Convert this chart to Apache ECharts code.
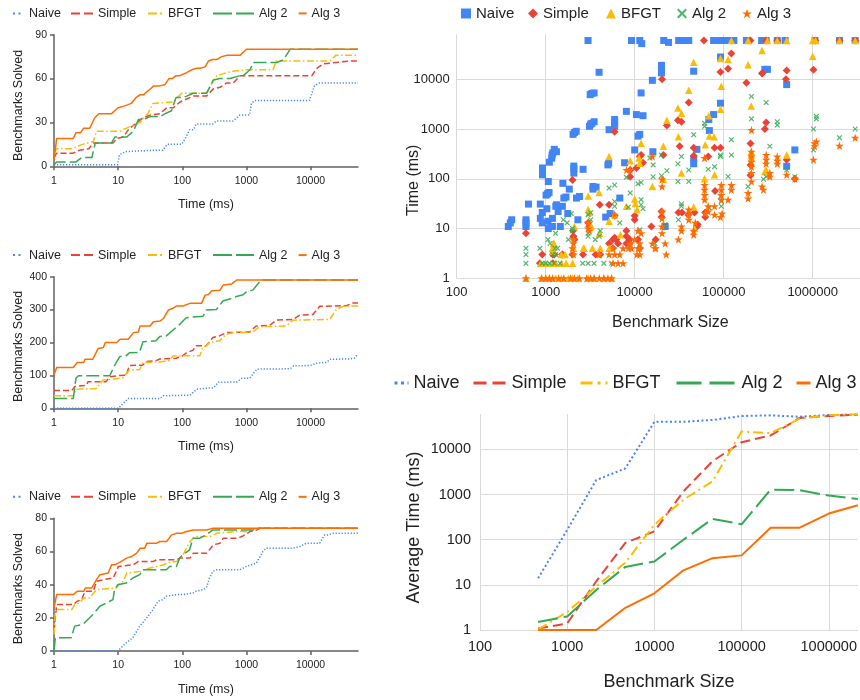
<!DOCTYPE html>
<html><head><meta charset="utf-8">
<script src="https://cdn.jsdelivr.net/npm/echarts@6/dist/echarts.min.js"></script>
<style>html,body{margin:0;padding:0;background:#fff}#c{width:860px;height:700px}</style>
</head><body><div id="c"></div>
<script>
// ---------- Panel 1 (top-left): benchmarks solved vs time ----------
const p1Naive = [[1,1],[9.8,1],[10.5,8],[13,10],[35,11],[50,11],[58,15],[98,15],[115,20],[130,25],[150,25],[165,29],[300,29],[340,31],[620,31],[790,35],[1120,35],[1200,43],[1340,45],[9600,45],[11500,55],[13800,57],[55000,57]];
const p1Simple = [[1,6],[1.1,9],[2.0,9],[2.5,11],[3.5,12],[4.1,16],[8.4,16],[9.5,19],[12,20],[15,26],[20,30],[24,33],[31.5,35],[45,36],[57,40],[72,40],[92,44],[117,46],[149,48],[240,48],[305,53],[388,54],[493,57],[627,57],[800,62],[10500,62],[12500,67],[15800,70],[25000,71],[40000,72],[55000,72]];
const p1BFGT = [[1,9],[1.1,12],[1.9,12],[2.8,15],[4.1,17],[4.6,24],[10.6,24],[15,27],[22,30],[29,36],[35,43],[72,44],[98,50],[240,50],[300,58],[345,62],[490,64],[620,65],[1000,66],[2600,66],[2900,72],[20000,72],[25000,76],[55000,76]];
const p1Alg2 = [[1,1],[1.1,3],[2.2,3],[2.7,6],[3.9,6],[4.4,16],[7.9,16],[8.9,20],[13.6,20],[17.3,24],[20.7,32],[24.8,32],[31.5,34],[45,34],[54,36],[68,38],[80,47],[103,47],[117,48],[149,50],[240,50],[305,59],[388,60],[556,60],[797,62],[898,62],[1140,66],[1290,71],[3000,71],[3800,73],[4800,80],[55000,80]];
const p1Alg3 = [[1,4],[1.1,19],[2.0,19],[2.2,23],[2.6,23],[2.9,26],[3.6,26],[4.3,33],[5,36],[7.9,36],[10,40],[12,41],[14,42],[16,43],[19,47],[22,49],[25,49],[28,51],[32,53],[36,55],[45,55],[54,56],[62,60],[70,60],[80,62],[92,62],[117,64],[140,66],[168,67],[190,67],[227,68],[256,72],[300,73],[345,73],[413,75],[500,76],[800,76],[1000,80],[55000,80]];

// ---------- Panel 2 (middle-left) ----------
const p2Naive = [[1,0],[10.1,0],[12,15],[14.4,30],[45,30],[51,38],[132,40],[168,58],[230,61],[305,62],[366,79],[707,80],[847,91],[1140,92],[1450,119],[4810,120],[5430,129],[9870,130],[12500,137],[17900,140],[20200,149],[41000,150],[48000,152],[55000,165]];
const p2Simple = [[1,54],[1.9,54],[2.1,66],[3.2,70],[3.4,81],[6.5,81],[7.4,96],[10.6,100],[13.4,101],[15,130],[24,131],[27.5,142],[39,145],[44.5,150],[81,152],[91,157],[102,160],[115,168],[147,177],[165,190],[237,190],[300,215],[380,220],[490,230],[1120,232],[1420,250],[2300,252],[2930,268],[5300,270],[6800,283],[10900,285],[13900,310],[36000,312],[46000,320],[55000,320]];
const p2BFGT = [[1,38],[2.0,38],[2.2,58],[4.6,60],[5.8,86],[8.3,88],[8.8,91],[11.9,93],[15,116],[21.7,118],[24.4,139],[44.5,141],[63.5,145],[71.6,159],[188,160],[211,187],[237,190],[266,200],[380,205],[490,225],[618,230],[1270,232],[1610,248],[4200,250],[5300,268],[19800,270],[25300,300],[32000,310],[55000,311]];
const p2Alg2 = [[1,30],[2.0,30],[2.2,91],[2.4,99],[7.4,99],[8.8,130],[10.6,157],[13.4,160],[15,169],[21.5,170],[24.4,202],[39,205],[44.5,218],[56.5,220],[72,238],[91,255],[115,275],[139,277],[211,280],[237,299],[340,300],[430,326],[618,335],[700,340],[890,345],[1000,354],[1270,360],[1610,385],[1810,390],[55000,390]];
const p2Alg3 = [[1,101],[1.1,124],[2.0,124],[2.3,139],[2.9,139],[3.05,149],[4.0,149],[4.9,182],[5.9,185],[6.3,200],[9.5,200],[10.7,210],[14.4,210],[17.3,230],[20.7,232],[22,250],[31.5,250],[35.5,263],[45,265],[51,273],[61,299],[73,305],[82,311],[103,311],[132,319],[200,319],[227,344],[256,346],[290,357],[388,359],[437,375],[591,378],[627,382],[707,390],[55000,390]];

// ---------- Panel 3 (bottom-left) ----------
const p3Naive = [[1,0],[9.9,0],[13.4,5],[17,8],[21.7,15],[28,20],[35,25],[42,30],[50,31],[56.5,33],[81,34],[102,34],[147,35],[165,36],[211,37],[237,38],[266,44],[300,48],[338,49],[790,49],[1000,51],[1430,53],[1810,60],[2040,62],[5300,62],[6800,63],[8600,65],[13900,65],[16600,70],[18600,70],[22500,71],[55000,71]];
const p3Simple = [[1,12],[1.1,28],[2.0,28],[2.3,30],[2.7,31],[3.05,36],[4.1,36],[4.6,42],[5.9,43],[6.3,44],[8.4,44],[10.1,51],[10.7,52],[17.3,52],[20.7,54],[35.5,54],[40,55],[82,55],[92,56],[132,56],[149,59],[240,59],[305,64],[388,65],[437,68],[707,68],[847,69],[1140,72],[1450,73],[1630,74],[55000,74]];
const p3BFGT = [[1,10],[1.05,25],[1.9,25],[2.1,28],[2.5,29],[2.9,32],[3.6,32],[4.6,37],[9.5,38],[10.1,40],[12.1,42],[13.6,47],[22,48],[24.8,49],[31.5,50],[51,52],[57,53],[82,54],[103,58],[132,66],[149,68],[168,69],[271,69],[345,71],[707,72],[1000,72],[1140,73],[1600,74],[55000,74]];
const p3Alg2 = [[1,0],[1.05,8],[1.86,8],[2.1,15],[2.8,16],[3.6,20],[4.05,22],[5.2,27],[8.3,31],[8.8,37],[9.9,40],[13.4,41],[17,44],[21.7,46],[24.4,49],[56.5,49],[63.5,51],[81,51],[91,56],[102,58],[130,61],[147,68],[188,68],[237,70],[300,73],[1270,73],[1610,74],[55000,74]];
const p3Alg3 = [[1,26],[1.1,34],[2.0,34],[2.3,36],[2.9,36],[3.1,38],[3.9,38],[4.6,43],[5.2,46],[7.0,47],[7.9,52],[8.9,52],[10.1,53],[13.6,56],[16.3,57],[19.5,59],[22,62],[26,62],[28,65],[40,65],[45,66],[57,66],[68,70],[82,71],[98,71],[117,72],[149,73],[240,73],[305,74],[55000,74]];

// ---------- Panel 4 (top-right): time vs benchmark size, scatter ----------
const scNaive = [[380,11],[400,13],[415,15],[600,11],[600,13],[600,15],[640,31],[870,31],[870,16],[915,21],[915,13],[1030,25],[1070,10],[1060,14],[1190,16],[1190,11],[1010,47],[1050,50],[1090,53],[1320,30],[1380,22],[1460,11],[1540,28],[1560,81],[1070,88],[920,120],[920,140],[920,165],[1100,215],[1170,260],[1180,300],[1200,330],[1250,390],[1320,350],[1840,62],[1690,43],[1600,41],[2220,41],[2400,44],[3400,62],[3400,70],[3680,68],[1300,28],[1770,20],[2300,15],[4720,17],[5300,20],[6800,41],[1150,11],[2030,780],[2100,850],[2200,900],[3100,1130],[3200,1250],[3300,1300],[3500,1400],[2070,130],[2070,160],[2070,180],[2630,155],[5000,190],[5100,205],[7700,210],[10000,380],[16000,350],[10900,720],[11400,780],[5150,970],[5950,1130],[5950,1350],[5950,1550],[8060,2260],[10450,1950],[12400,1850],[11800,5300],[3160,4900],[3300,5200],[3500,5300],[3980,13800],[15800,9500],[2990,60000],[9200,60000],[11400,60000],[12000,52000],[21200,60000],[24000,55000],[31200,60000],[35000,60000],[40500,60000],[77000,60000],[85000,60000],[100000,60000],[104000,60000],[115000,60000],[130000,60000],[20000,13400],[20000,16000],[20000,19000],[46000,14500],[92000,28000],[92000,3300],[50000,390],[46000,250],[46000,200],[68000,1550],[77000,1950],[69000,930],[22000,11],[180000,60000],[267000,60000],[300000,60000],[400000,60000],[490000,60000],[290000,15800],[310000,15800],[510000,7800],[630000,380],[510000,178],[1060000,60000],[2000000,60000],[3000000,60000]];
const scSimple = [[600,8],[915,3],[1200,3],[1250,3],[1540,3],[860,2],[1200,2],[2000,95],[2030,9],[2050,7],[2100,6],[1530,3],[2000,3],[2620,3],[3640,3],[4100,3],[3000,13],[3100,11],[4050,30],[5150,30],[5950,880],[5950,18],[5950,6.5],[8060,9],[8060,7],[8060,5],[8900,150],[8900,110],[11400,280],[11800,300],[12400,210],[10450,165],[10000,18],[10000,15],[8800,6],[8800,5],[10900,6],[11400,4],[5700,6],[6200,6],[6500,5],[5150,5],[5700,4],[15400,11],[17200,6],[60000,60000],[122000,33000],[112000,16300],[92000,14000],[20300,10000],[40500,3400],[30600,1500],[33500,1400],[23000,1180],[32000,450],[46000,420],[79000,420],[92000,420],[67000,280],[46000,290],[21000,300],[80000,57],[62000,21],[62000,17],[31000,21],[34000,21],[40000,19],[47000,21],[51000,12],[50000,11],[20000,22],[20000,17],[272000,13400],[510000,15000],[500000,10000],[1020000,15500],[300000,1350],[290000,1000],[510000,240],[630000,100],[200000,510],[200000,190],[200000,118],[200000,60000],[300000,60000],[400000,60000],[1070000,60000],[2000000,60000],[3000000,60000],[180000,8500],[270000,13000]];
const scBFGT = [[1240,5],[1190,4],[1200,3.5],[1500,3],[1500,2],[1650,3],[880,2],[1150,2],[1000,2],[1300,2],[1700,2],[2000,2],[5150,280],[3980,53],[3000,24],[3100,21],[3250,11],[2100,11],[3000,45],[2700,4],[3350,4],[4100,4],[5150,4],[6900,7.5],[11800,520],[8900,230],[11200,260],[11400,205],[10000,39],[10200,32],[10650,24],[15800,70],[8060,28],[5950,19],[4020,8],[5150,14],[122000,60000],[188000,60000],[46000,22000],[92000,26000],[112000,25000],[188000,19600],[40500,6000],[94000,7200],[30600,2630],[33500,2070],[23000,1500],[68000,1850],[92000,2500],[204000,2900],[31000,700],[69000,720],[78000,700],[21000,450],[62000,480],[21000,98],[61000,100],[33500,130],[79000,120],[46000,27],[47000,10],[204000,350],[204000,300],[204000,260],[270000,38000],[310000,60000],[400000,60000],[510000,60000],[1000000,60000],[1080000,60000],[2000000,60000],[3000000,60000],[1000000,29000],[510000,300],[290000,140],[300000,150],[600,1],[900,1],[1000,1],[1100,1],[1300,1],[1500,1],[1800,1],[2000,1],[2300,1],[3000,1],[3500,1],[4500,1],[5500,1],[1220,5],[2050,4],[2650,4],[5300,4]];
const scAlg2 = [[600,4],[600,3],[600,2],[860,4],[910,2],[1060,6],[1120,5],[1270,4],[1290,8],[1360,4],[1580,15],[1000,2],[1100,2],[1250,2],[1450,2],[1740,13],[1940,20],[2000,10],[1800,6],[2000,9],[3000,19],[3200,21],[3200,15],[3000,8],[3000,7],[4000,7],[4100,9],[3600,6],[5150,65],[5950,75],[5950,35],[5950,28],[8900,52],[6800,13],[10900,79],[11800,84],[8060,107],[11800,38],[11800,30],[12400,25],[11400,9.4],[16100,110],[14800,260],[16100,190],[8500,27],[205000,4500],[205000,1600],[61000,1130],[61000,1300],[46000,770],[122000,610],[92000,300],[92000,280],[122000,300],[20000,300],[33500,280],[30600,200],[23000,145],[40500,150],[20000,115],[30600,88],[40500,88],[67000,155],[79000,175],[112000,111],[92000,44],[94000,35],[94000,28],[33500,31],[33500,28],[31000,15],[69000,26],[16900,5],[22000,12],[188000,70],[300000,3400],[400000,1400],[400000,1200],[330000,450],[280000,98],[510000,150],[1100000,1800],[1100000,1600],[1020000,1000],[1020000,380],[2000000,670],[3000000,1000],[630000,110],[300000,110],[1200,3],[1300,3],[2600,2],[3000,2],[3500,2],[4500,2],[5500,2]];
const scAlg3 = [[600,1],[900,1],[1000,1],[1100,1],[1200,1],[1400,1],[1600,1],[1900,1],[2100,1],[2400,1],[2900,1],[3200,1],[3500,1],[4000,1],[4500,1],[5000,1],[5500,1],[2050,6],[2050,5],[2000,4],[2050,3],[3000,13],[3000,10],[3100,9],[4000,3],[5150,3],[5950,3],[6800,3],[10900,4],[11400,4],[8500,4],[9200,4],[8900,5],[11400,5],[10000,6],[10900,9],[11800,8],[10600,3],[11400,3],[15800,280],[15800,5],[17200,4],[5950,19],[8900,150],[8100,150],[61000,260],[20300,70],[20300,98],[20300,22],[20300,16],[20300,11],[20300,8],[22000,5],[22600,3],[16900,4],[31000,6],[33500,11],[33500,9],[40500,24],[40500,19],[40500,15],[46000,9],[46000,7.5],[48000,13],[61000,75],[61000,60],[61000,47],[61000,38],[67000,28],[67000,22],[79000,28],[94000,75],[94000,60],[94000,47],[94000,38],[96000,20],[112000,38],[122000,75],[122000,60],[79000,19],[205000,950],[205000,350],[205000,280],[205000,220],[205000,175],[205000,130],[188000,52],[188000,40],[205000,88],[92000,17],[62000,20],[300000,300],[300000,240],[300000,200],[330000,130],[330000,110],[280000,60],[270000,70],[400000,280],[400000,230],[400000,200],[510000,120],[630000,100],[1050000,450],[1050000,520],[1100000,560],[1020000,240],[2000000,460],[3000000,670],[5700,2],[6500,2],[7400,2],[5700,4],[7400,4]];

// ---------- Panel 5 (bottom-right): average time vs benchmark size ----------
const avgSizes = [464, 1000, 2154, 4642, 10000, 21544, 46416, 100000, 215443, 464159, 1000000, 2154435];
const avgNaive = [14, 165, 2100, 3800, 41000, 41000, 45000, 55000, 57000, 53000, 58000, 59000];
const avgSimple = [1.08, 1.4, 12, 85, 153, 1180, 5500, 14500, 20400, 50000, 55000, 59000];
const avgBFGT = [1.03, 2.5, 9.2, 31, 215, 770, 1970, 25000, 23000, 48000, 58000, 60000];
const avgAlg2 = [1.5, 2, 7.7, 25, 33, 100, 290, 220, 1290, 1250, 950, 800];
const avgAlg3 = [1, 1, 1, 3.1, 6.5, 21, 39, 45, 185, 185, 380, 580];

// ---------- styling ----------
const FONT = "'Liberation Sans', Arial, sans-serif";
const names = ['Naive','Simple','BFGT','Alg 2','Alg 3'];
const colors = ['#4285F4','#EA4335','#FBBC04','#34A853','#FF6D01'];
const dashSmall = [[1.2,1.8],[6,3],[7,2.5,1.5,2.5],[13,4],'solid'];
const dashAvg = [[2,2.5],[10,5],[10,4,2,4],[20,6],'solid'];
const smallData = [
  [p1Naive,p1Simple,p1BFGT,p1Alg2,p1Alg3],
  [p2Naive,p2Simple,p2BFGT,p2Alg2,p2Alg3],
  [p3Naive,p3Simple,p3BFGT,p3Alg2,p3Alg3]
];
const scData = [scNaive,scSimple,scBFGT,scAlg2,scAlg3];
const avgData = [avgNaive,avgSimple,avgBFGT,avgAlg2,avgAlg3];
const scSymbols = ['rect','diamond','triangle',
  'path://M0 15 L15 0 L50 35 L85 0 L100 15 L65 50 L100 85 L85 100 L50 65 L15 100 L0 85 L35 50 Z',
  'path://M50 0 L61.8 35.1 L98.9 35.1 L68.9 56.9 L80.4 92.1 L50 70.5 L19.6 92.1 L31.1 56.9 L1.1 35.1 L38.2 35.1 Z'];
const scSizes = [7, 8, 7.5, 5.5, 8.5];

const smallGrids = [
  {left:54, top:34.7, width:304, height:131.6},
  {left:54, top:276.7, width:304, height:131.6},
  {left:54, top:518.3, width:304, height:132.7}
];
const smallYMax = [90, 400, 80];
const smallYInt = [30, 100, 20];
const smallYNameShift = [10, 8, 8];
const smallLegendTops = [6.9, 248.6, 490.3];
const smallLegendPos = [[12,11],[70,22],[147,15],[212,41],[297,8]];
const smallLegendDash = [[2,3.5],[9,4],[9,3,2,3],[19,4],'solid'];
const avgLegendPos = [[393,14],[472,33],[579,27],[675,60],[795,14]];
const avgLegendDash = [[3,3.5],[13,6],[12,5,3,5],[25,8],'solid'];
const scLegendPos = [461,528,606,677,742];

const fmt = v => String(Math.round(v));
const legendFmt = n => n.split('#')[0];
const axisCol = '#616161';
const gridCol = '#d9d9d9';

const grid = [], xAxis = [], yAxis = [], series = [], legend = [];

smallGrids.forEach((g, p) => {
  grid.push(g);
  xAxis.push({type:'log', logBase:10, gridIndex:p, min:1, max:55000,
    name:'Time (ms)', nameLocation:'middle', nameGap:32, nameMoveOverlap:false,
    nameTextStyle:{fontFamily:FONT, fontSize:12.5, color:'#222'},
    axisLine:{show:true, onZero:false, lineStyle:{color:axisCol, width:1.5}},
    axisTick:{show:true, length:4, lineStyle:{color:axisCol, width:1.5}},
    axisLabel:{fontFamily:FONT, fontSize:10.5, color:'#222', margin:9, showMaxLabel:false, formatter:fmt},
    splitLine:{show:false}, minorTick:{show:false}});
  yAxis.push({type:'value', gridIndex:p, min:0, max:smallYMax[p], interval:smallYInt[p],
    name:'Benchmarks Solved', nameLocation:'middle', nameGap:29, nameMoveOverlap:false,
    nameTextStyle:{fontFamily:FONT, fontSize:12.5, color:'#222', padding:[0,smallYNameShift[p],0,0]},
    axisLine:{show:true, onZero:false, lineStyle:{color:axisCol, width:1.5}},
    axisTick:{show:true, length:4, lineStyle:{color:axisCol, width:1.5}},
    axisLabel:{fontFamily:FONT, fontSize:10.5, color:'#222', margin:7},
    splitLine:{show:false}});
  names.forEach((n, k) => {
    const sname = n + '#' + p;
    series.push({type:'line', name:sname, xAxisIndex:p, yAxisIndex:p, data:smallData[p][k],
      symbol:'none', color:colors[k], lineStyle:{color:colors[k], width:1.5, type:dashSmall[k]},
      silent:true, z:2+k});
    legend.push({data:[sname], left:smallLegendPos[k][0], top:smallLegendTops[p],
      itemWidth:smallLegendPos[k][1], itemHeight:14, padding:0, itemGap:0, selectedMode:false,
      formatter:legendFmt, textStyle:{fontFamily:FONT, fontSize:12.5, color:'#222'},
      lineStyle:{type:smallLegendDash[k], width:2}, itemStyle:{opacity:0}});
  });
});

// panel 4
grid.push({left:456.7, top:34.3, width:403.3, height:244});
xAxis.push({type:'log', logBase:10, gridIndex:3, min:100, max:3400000,
  name:'Benchmark Size', nameLocation:'middle', nameGap:36, nameMoveOverlap:false,
  nameTextStyle:{fontFamily:FONT, fontSize:16, color:'#222', padding:[0,0,0,24]},
  axisLine:{show:false, onZero:false}, axisTick:{show:false},
  axisLabel:{fontFamily:FONT, fontSize:13, color:'#222', margin:8, showMaxLabel:false, formatter:fmt},
  splitLine:{show:true, showMaxLine:false, lineStyle:{color:gridCol, width:1}}});
yAxis.push({type:'log', logBase:10, gridIndex:3, min:1, max:80000,
  name:'Time (ms)', nameLocation:'middle', nameGap:35, nameMoveOverlap:false,
  nameTextStyle:{fontFamily:FONT, fontSize:16, color:'#222', padding:[0,48,0,0]},
  axisLine:{show:false, onZero:false}, axisTick:{show:false},
  axisLabel:{fontFamily:FONT, fontSize:13, color:'#222', margin:7, showMaxLabel:false, formatter:fmt},
  splitLine:{show:true, showMaxLine:false, lineStyle:{color:gridCol, width:1}}});
names.forEach((n, k) => {
  const sname = n + '#3';
  series.push({type:'scatter', name:sname, xAxisIndex:3, yAxisIndex:3, data:scData[k],
    symbol:scSymbols[k], symbolSize:scSizes[k], itemStyle:{color:colors[k], opacity: k===3?0.85:1},
    silent:true, z:2+k});
  legend.push({data:[sname], left:scLegendPos[k], top:6, itemWidth:10, itemHeight:10,
    padding:0, itemGap:0, selectedMode:false, formatter:legendFmt,
    textStyle:{fontFamily:FONT, fontSize:15, color:'#222'}});
});

// panel 5
grid.push({left:480, top:414, width:379, height:216});
xAxis.push({type:'log', logBase:10, gridIndex:4, min:100, max:2154435,
  name:'Benchmark Size', nameLocation:'middle', nameGap:43, nameMoveOverlap:false,
  nameTextStyle:{fontFamily:FONT, fontSize:18, color:'#222'},
  axisLine:{show:false, onZero:false}, axisTick:{show:false},
  axisLabel:{fontFamily:FONT, fontSize:14.5, color:'#222', margin:9, showMaxLabel:false, formatter:fmt},
  splitLine:{show:true, showMaxLine:false, lineStyle:{color:gridCol, width:1}}});
yAxis.push({type:'log', logBase:10, gridIndex:4, min:1, max:61000,
  name:'Average Time (ms)', nameLocation:'middle', nameGap:57, nameMoveOverlap:false,
  nameTextStyle:{fontFamily:FONT, fontSize:18, color:'#222', padding:[0,11,0,0]},
  axisLine:{show:false, onZero:false}, axisTick:{show:false},
  axisLabel:{fontFamily:FONT, fontSize:14.5, color:'#222', margin:9, showMaxLabel:false, formatter:fmt},
  splitLine:{show:true, showMaxLine:false, lineStyle:{color:gridCol, width:1}}});
names.forEach((n, k) => {
  const sname = n + '#4';
  series.push({type:'line', name:sname, xAxisIndex:4, yAxisIndex:4,
    data:avgSizes.map((s, i) => [s, avgData[k][i]]),
    symbol:'none', color:colors[k], lineStyle:{color:colors[k], width:2, type:dashAvg[k]},
    silent:true, z:2+k});
  legend.push({data:[sname], left:avgLegendPos[k][0], top:374,
    itemWidth:avgLegendPos[k][1], itemHeight:14, padding:0, itemGap:0, selectedMode:false,
    formatter:legendFmt, textStyle:{fontFamily:FONT, fontSize:18, color:'#222'},
    lineStyle:{type:avgLegendDash[k], width:3}, itemStyle:{opacity:0}});
});

const chart = echarts.init(document.getElementById('c'), null, {renderer:'canvas'});
chart.setOption({animation:false, backgroundColor:'#fff', grid, xAxis, yAxis, series, legend});
</script></body></html>
